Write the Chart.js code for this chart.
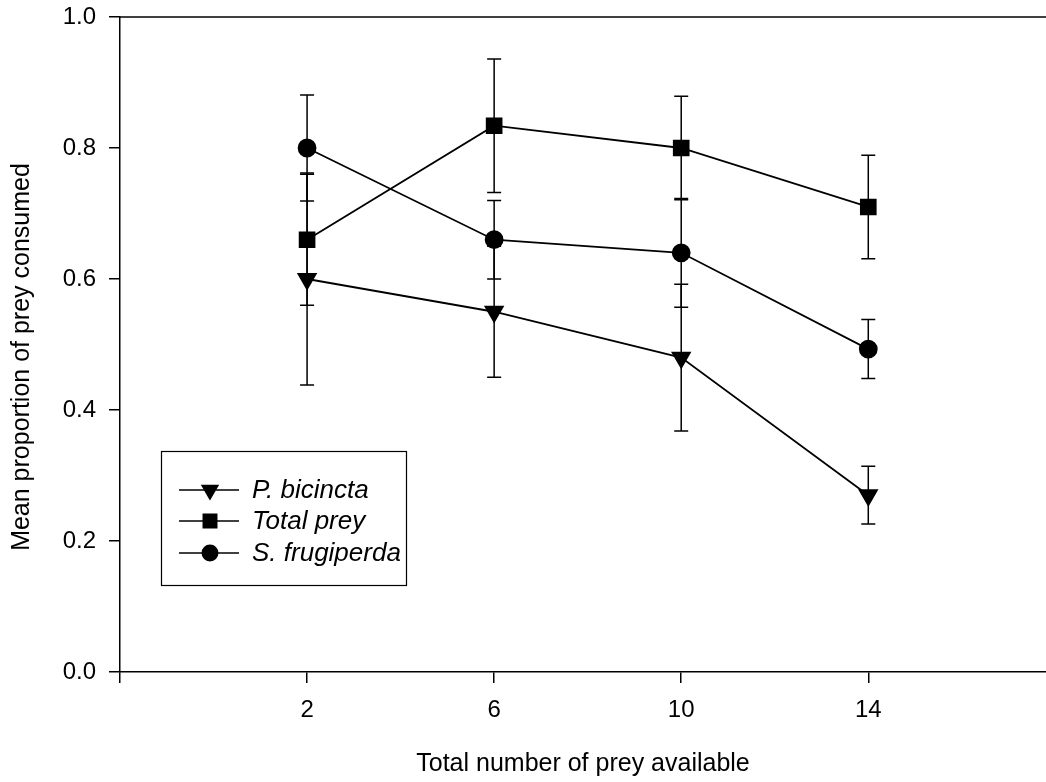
<!DOCTYPE html>
<html>
<head>
<meta charset="utf-8">
<script src="https://cdn.jsdelivr.net/npm/chart.js@4"></script>
<style>
  body { margin: 0; background: #fff; }
  #wrap { width: 1046px; height: 782px; }
</style>
</head>
<body>
<div id="wrap"><canvas id="preyChart" width="1046" height="782"></canvas></div>
<script>
// Số liệu
const xValues = [2, 6, 10, 14]
const xTicks = [-2, 2, 6, 10, 14]   // -2 là vạch ở mép trái, không có nhãn
const yTicks = [0, 0.2, 0.4, 0.6, 0.8, 1.0]

const bicincta = [0.60, 0.55, 0.48, 0.27]
const bicinctaErr = [0.162, 0.10, 0.112, 0.044]
const totalPrey = [0.66, 0.834, 0.80, 0.71]
const totalPreyErr = [0.10, 0.102, 0.079, 0.079]
const frugiperda = [0.80, 0.66, 0.64, 0.493]
const frugiperdaErr = [0.081, 0.06, 0.083, 0.045]

const FONT = 'Liberation Sans, Arial, sans-serif'

function points(vals) {
    return xValues.map((x, i) => ({ x: x, y: vals[i] }))
}

// Vẽ thanh sai số (trước khi vẽ điểm để điểm nằm trên)
const errorBars = {
    id: 'errorBars',
    beforeDatasetsDraw(chart) {
        const { ctx, scales: { x, y } } = chart
        ctx.save()
        ctx.strokeStyle = '#000'
        ctx.lineWidth = 1.5
        chart.data.datasets.forEach(ds => {
            ds.data.forEach((p, i) => {
                const e = ds.errors[i]
                const px = x.getPixelForValue(p.x)
                const top = y.getPixelForValue(p.y + e)
                const bot = y.getPixelForValue(p.y - e)
                ctx.beginPath()
                ctx.moveTo(px, top); ctx.lineTo(px, bot)
                ctx.moveTo(px - 7, top); ctx.lineTo(px + 7, top)
                ctx.moveTo(px - 7, bot); ctx.lineTo(px + 7, bot)
                ctx.stroke()
            })
        })
        ctx.restore()
    }
}

// Khung trên, tiêu đề trục Y + chú thích trong vùng biểu đồ
const frameAndLegend = {
    id: 'frameAndLegend',
    afterDraw(chart) {
        const { ctx, chartArea } = chart
        ctx.save()
        ctx.strokeStyle = '#000'
        ctx.fillStyle = '#000'
        ctx.lineWidth = 1.5
        ctx.beginPath()
        ctx.moveTo(chartArea.left, chartArea.top)
        ctx.lineTo(chartArea.right, chartArea.top)
        ctx.stroke()

        // tiêu đề trục Y (lệch xuống một chút như hình gốc)
        ctx.save()
        ctx.translate(22, 357)
        ctx.rotate(-Math.PI / 2)
        ctx.font = '25px ' + FONT
        ctx.textAlign = 'center'
        ctx.textBaseline = 'middle'
        ctx.fillText('Mean proportion of prey consumed', 0, 0)
        ctx.restore()

        const bx = chartArea.left + 41, by = 451, bw = 245, bh = 134
        ctx.lineWidth = 1.2
        ctx.strokeRect(bx + 0.5, by + 0.5, bw, bh)

        ctx.font = 'italic 26px ' + FONT
        ctx.textBaseline = 'middle'
        const rows = [39, 70, 102]
        chart.data.datasets.forEach((ds, i) => {
            const ry = by + rows[i]
            ctx.lineWidth = 1.6
            ctx.beginPath()
            ctx.moveTo(bx + 18, ry); ctx.lineTo(bx + 78, ry)
            ctx.stroke()
            Chart.helpers.drawPoint(ctx, {
                pointStyle: ds.pointStyle,
                radius: ds.pointRadius * 0.9,
                rotation: ds.pointRotation || 0,
                borderWidth: 1
            }, bx + 49, ry)
            ctx.fill()
            ctx.fillText(ds.label, bx + 91, ry + 1)
        })
        ctx.restore()
    }
}

const ctx = document.getElementById('preyChart').getContext('2d')

const common = {
    borderColor: '#000',
    backgroundColor: '#000',
    pointBackgroundColor: '#000',
    pointBorderColor: '#000',
    borderWidth: 1.8,
    tension: 0,
    fill: false
}

new Chart(ctx, {
    type: 'line',
    data: {
        datasets: [
            Object.assign({}, common, {
                label: 'P. bicincta', data: points(bicincta), errors: bicinctaErr,
                pointStyle: 'triangle', pointRotation: 180, pointRadius: 10
            }),
            Object.assign({}, common, {
                label: 'Total prey', data: points(totalPrey), errors: totalPreyErr,
                pointStyle: 'rect', pointRadius: 10.5
            }),
            Object.assign({}, common, {
                label: 'S. frugiperda', data: points(frugiperda), errors: frugiperdaErr,
                pointStyle: 'circle', pointRadius: 8.5
            })
        ]
    },
    options: {
        responsive: false,
        animation: false,
        layout: { autoPadding: false, padding: { top: 17, left: 0, right: 0, bottom: 0 } },
        plugins: {
            legend: { display: false },
            tooltip: { enabled: false }
        },
        scales: {
            x: {
                type: 'linear',
                min: -2,
                max: 17.8,
                afterFit: s => { s.height = 110; s.paddingLeft = 0; s.paddingRight = 0 },
                afterBuildTicks: s => { s.ticks = xTicks.map(v => ({ value: v })) },
                grid: { drawOnChartArea: false, drawTicks: true, tickLength: 11, color: '#000', lineWidth: 1.5 },
                border: { color: '#000', width: 1.5 },
                ticks: {
                    color: '#000',
                    font: { family: FONT, size: 24 },
                    padding: 13,
                    maxRotation: 0,
                    autoSkip: false,
                    callback: v => v === -2 ? '' : v
                },
                title: {
                    display: true,
                    text: 'Total number of prey available',
                    color: '#000',
                    font: { family: FONT, size: 25 },
                    padding: { top: 0, bottom: 3 }
                }
            },
            y: {
                min: 0,
                max: 1,
                afterFit: s => { s.width = 120; s.paddingTop = 0; s.paddingBottom = 0 },
                afterBuildTicks: s => { s.ticks = yTicks.map(v => ({ value: v })) },
                grid: { drawOnChartArea: false, drawTicks: true, tickLength: 11, color: '#000', lineWidth: 1.5 },
                border: { color: '#000', width: 1.5 },
                ticks: {
                    color: '#000',
                    font: { family: FONT, size: 24 },
                    padding: 13,
                    callback: v => v.toFixed(1)
                }
            }
        }
    },
    plugins: [errorBars, frameAndLegend]
})
</script>
</body>
</html>
